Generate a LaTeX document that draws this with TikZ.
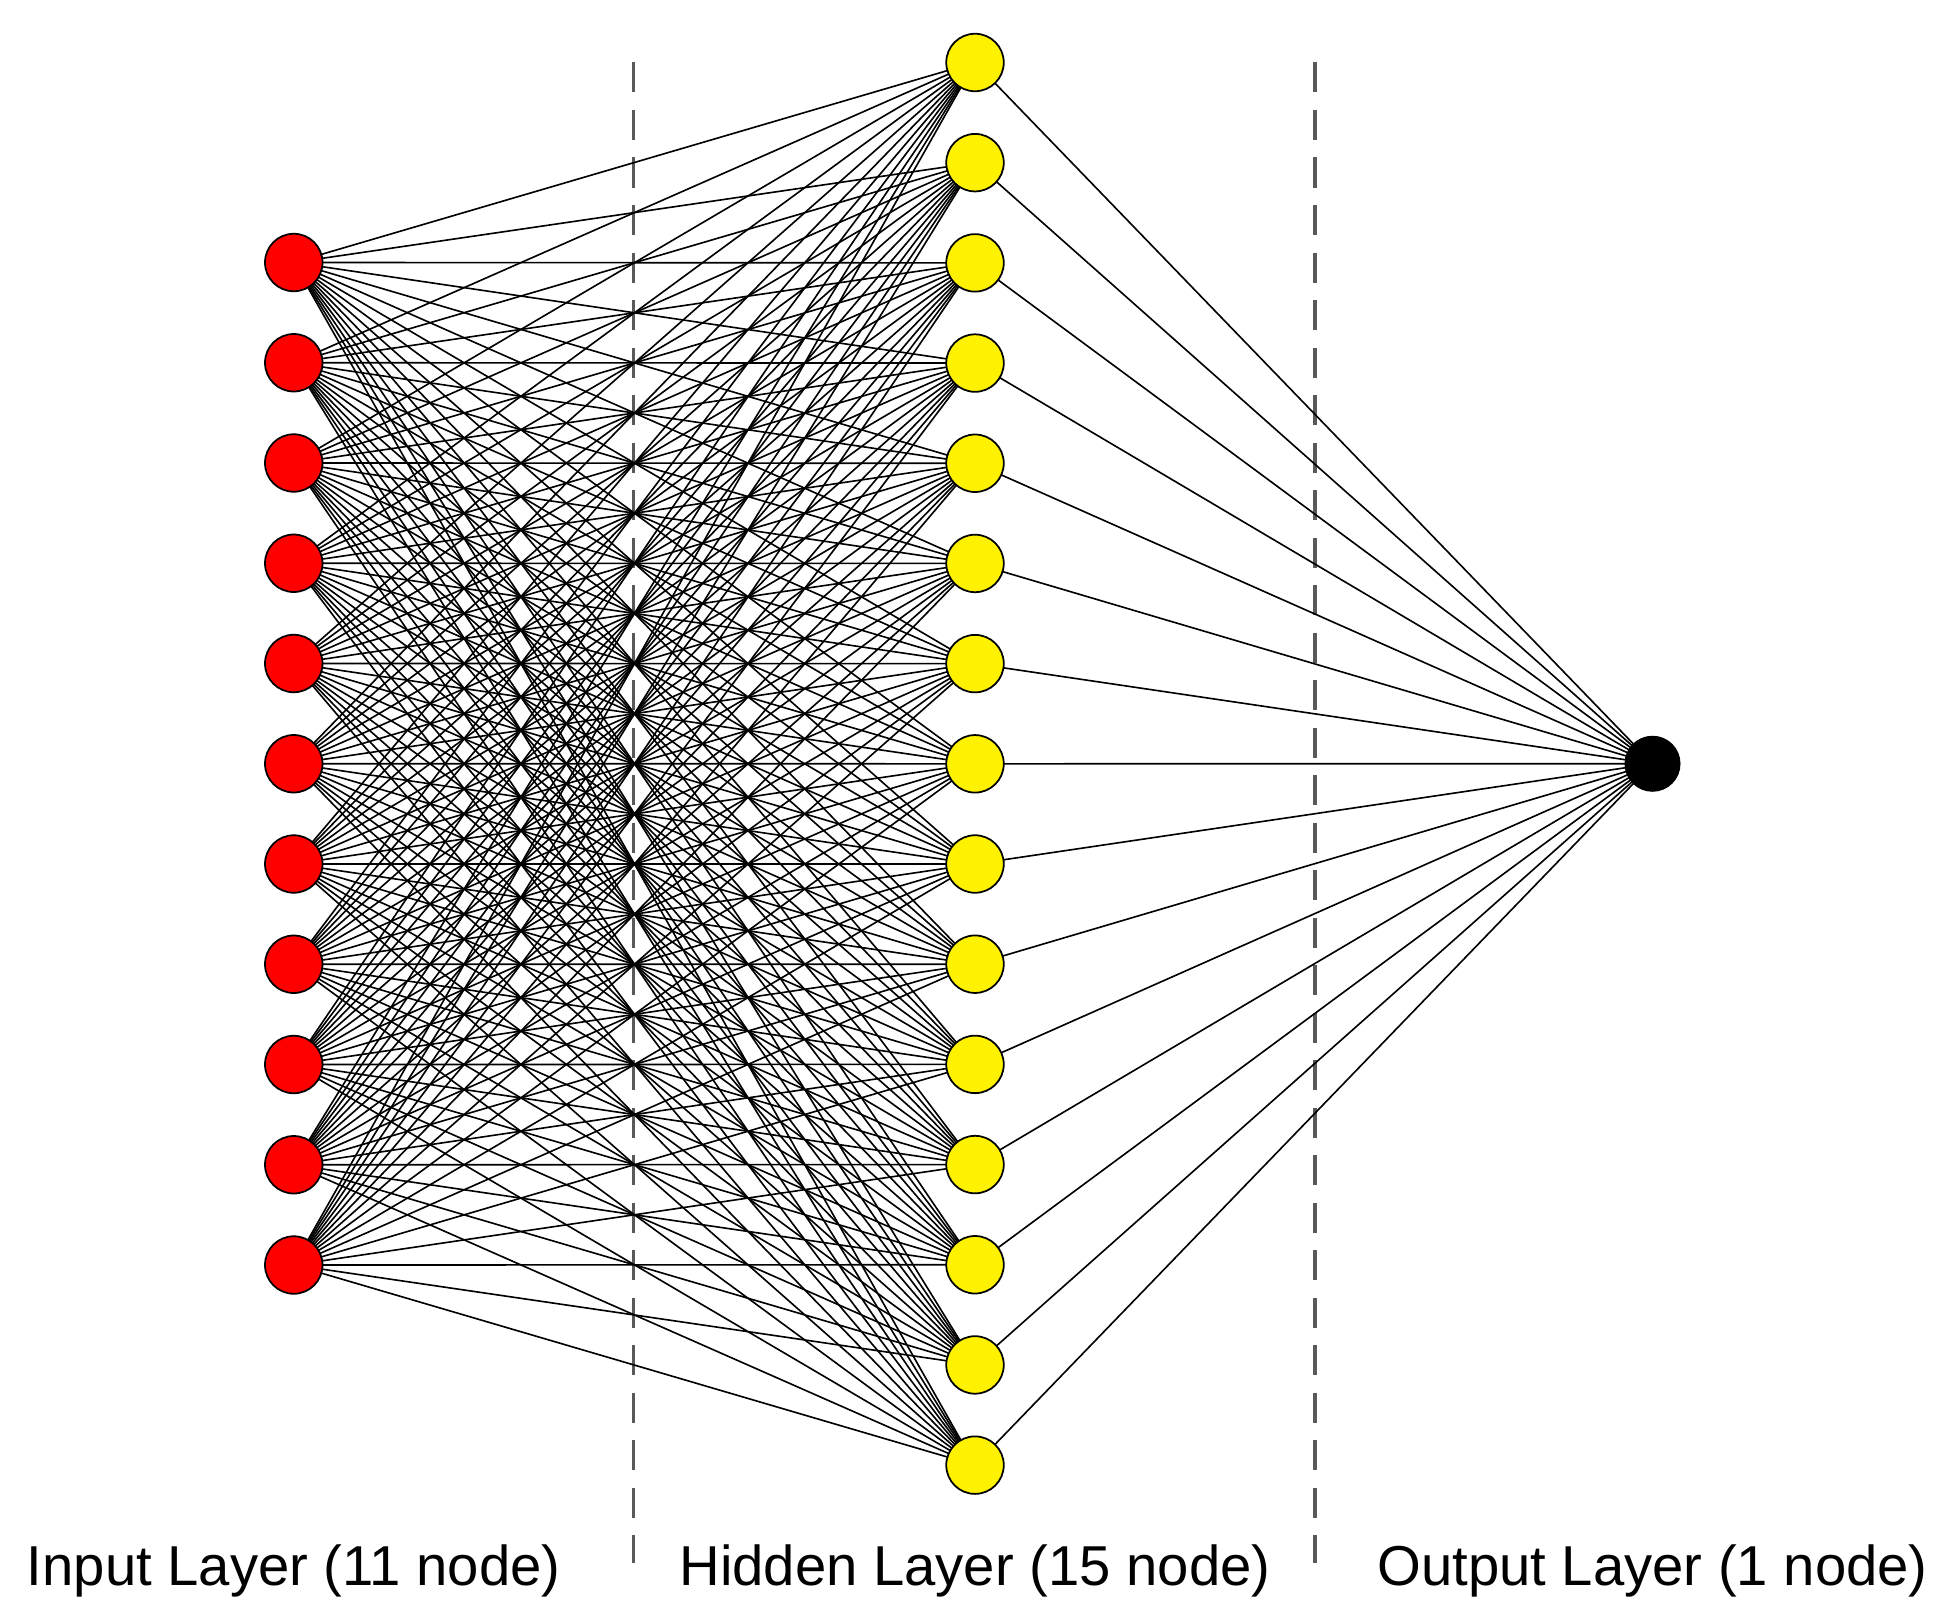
\documentclass[tikz,border=0pt]{standalone}
\usepackage{fontspec}
\setmainfont{Liberation Sans}
\begin{document}
\begin{tikzpicture}[x=0.5pt,y=-0.5pt,
  inp/.style={circle,draw=black,fill=red,minimum size=23pt,inner sep=0pt,line width=0.7pt},
  hid/.style={circle,draw=black,fill=yellow,minimum size=23pt,inner sep=0pt,line width=0.7pt},
  outn/.style={circle,draw=black,fill=black,minimum size=22pt,inner sep=0pt},
  edge/.style={line width=0.65pt,black},
  sep/.style={dash pattern=on 12pt off 7pt,line width=1.3pt,black!65},
  lab/.style={font=\fontsize{22.5}{26}\selectfont}]
\useasboundingbox (0,0) rectangle (1568,1295);
\draw[sep] (507,50) -- (507,1250);
\draw[sep] (1052,50) -- (1052,1250);
\foreach \i in {1,...,11} \coordinate (pi\i) at (235,{210+(\i-1)*80.2});
\foreach \j in {1,...,15} \coordinate (ph\j) at (780,{50+(\j-1)*80.15});
\coordinate (po) at (1322,611);
\foreach \i in {1,...,11} \foreach \j in {1,...,15} \draw[edge] (pi\i) -- (ph\j);
\foreach \j in {1,...,15} \draw[edge] (ph\j) -- (po);
\foreach \i in {1,...,11} \node[inp] (i\i) at (pi\i) {};
\foreach \j in {1,...,15} \node[hid] (h\j) at (ph\j) {};
\node[outn] (o) at (po) {};
\node[lab] (l1) at (235,1257) {Input Layer (11 node)};
\node[lab] (l2) at (780,1257) {Hidden Layer (15 node)};
\node[lab] (l3) at (1322,1257) {Output Layer (1 node)};
\end{tikzpicture}
\end{document}
